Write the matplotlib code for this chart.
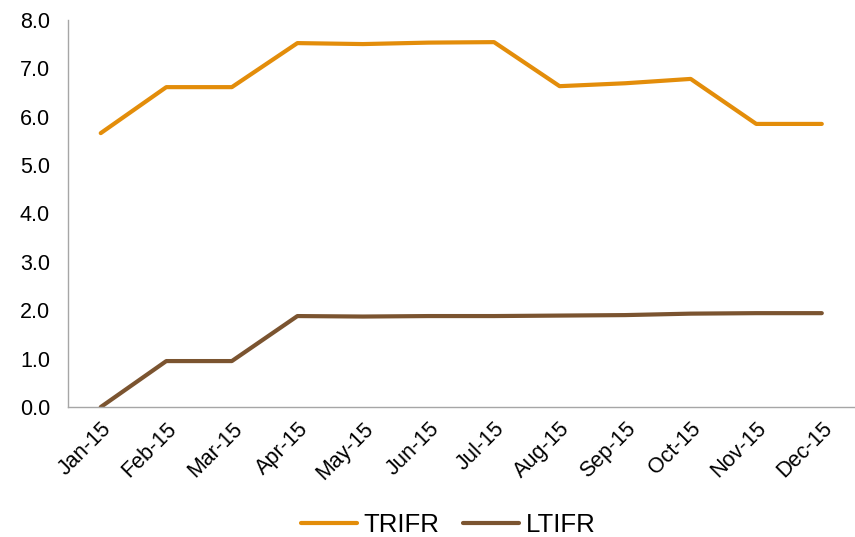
import matplotlib
matplotlib.use("Agg")
import matplotlib.pyplot as plt

months = ["Jan-15", "Feb-15", "Mar-15", "Apr-15", "May-15", "Jun-15",
          "Jul-15", "Aug-15", "Sep-15", "Oct-15", "Nov-15", "Dec-15"]
trifr = [5.66, 6.61, 6.61, 7.52, 7.50, 7.53, 7.54, 6.63, 6.69, 6.78, 5.85, 5.85]
ltifr = [0.0, 0.95, 0.95, 1.88, 1.87, 1.88, 1.88, 1.89, 1.90, 1.93, 1.94, 1.94]

plt.rcParams['font.family'] = ['Liberation Sans', 'DejaVu Sans']

fig = plt.figure(figsize=(8.55, 5.37), dpi=100)
ax = fig.add_axes([0.0795, 0.242, 0.92, 0.721])

x = range(len(months))
ax.plot(x, trifr, color="#E38D0A", lw=3, label="TRIFR", solid_capstyle="round")
ax.plot(x, ltifr, color="#7B5430", lw=3, label="LTIFR", solid_capstyle="round")

ax.set_xlim(-0.5, 11.5)
ax.set_ylim(0, 8)
ax.set_yticks([0, 1, 2, 3, 4, 5, 6, 7, 8])
ax.set_yticklabels([f"{v:.1f}" for v in range(9)])
ax.set_xticks(list(x))
ax.set_xticklabels(months, rotation=45, ha="right", rotation_mode="anchor")
ax.tick_params(axis="both", length=0, labelsize=15.5)
ax.tick_params(axis="y", pad=13)
ax.tick_params(axis="x", pad=8)

for s in ["top", "right"]:
    ax.spines[s].set_visible(False)
for s in ["left", "bottom"]:
    ax.spines[s].set_color("#A6A6A6")
    ax.spines[s].set_linewidth(1)
ax.spines["left"].set_bounds(0, 8)

fig.legend(loc="center", bbox_to_anchor=(0.524, 0.022), ncol=2,
           frameon=False, fontsize=18.5, handlelength=2.2, columnspacing=0.9,
           handletextpad=0.25)

fig.savefig("out.png", dpi=100)
